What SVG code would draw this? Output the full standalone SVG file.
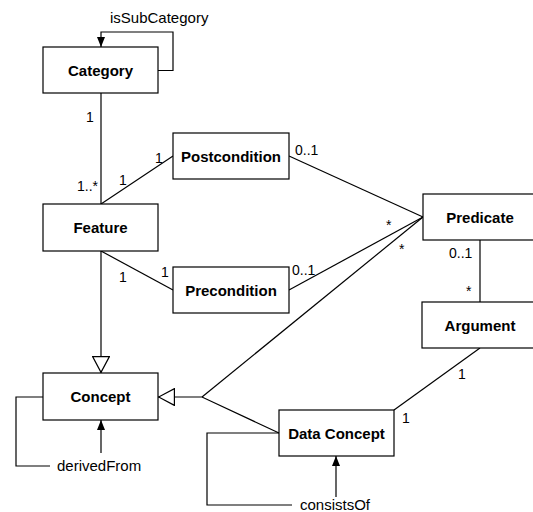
<svg xmlns="http://www.w3.org/2000/svg" width="533" height="512" viewBox="0 0 533 512">
<defs>
<style>
.box{fill:#fff;stroke:#000;stroke-width:1.2}
.nm{font-family:"Liberation Sans",Arial,sans-serif;font-weight:bold;font-size:15px;text-anchor:middle}
.lb{font-family:"Liberation Sans",Arial,sans-serif;font-size:14px}
.rl{font-family:"Liberation Sans",Arial,sans-serif;font-size:15px}
.ln{fill:none;stroke:#000;stroke-width:1.2}
</style>
<marker id="fill" viewBox="0 0 10 10" refX="10" refY="5" markerWidth="10" markerHeight="10" markerUnits="userSpaceOnUse" orient="auto"><path d="M0,1 L10,5 L0,9 Z" fill="#000"/></marker>
<marker id="hollow" viewBox="0 0 17 18" refX="17" refY="9" markerWidth="17" markerHeight="18" markerUnits="userSpaceOnUse" orient="auto"><path d="M0.6,0.6 L16.4,9 L0.6,17.4 Z" fill="#fff" stroke="#000" stroke-width="1.2"/></marker>
</defs>
<rect width="533" height="512" fill="#fff"/>
<g id="connectors">
<path class="ln" d="M158,70.5 H173 V32 H101 V47" marker-end="url(#fill)"/>
<text class="rl" x="110" y="23">isSubCategory</text>
<path class="ln" d="M101,93 V204"/>
<text class="lb" x="86" y="122">1</text>
<text class="lb" x="77" y="191">1..*</text>
<path class="ln" d="M101,204 L173,156"/>
<text class="lb" x="119" y="185">1</text>
<text class="lb" x="155" y="163">1</text>
<path class="ln" d="M101,251 L173,290"/>
<text class="lb" x="119" y="282">1</text>
<text class="lb" x="161" y="277">1</text>
<path class="ln" d="M289,156 L423,217"/>
<text class="lb" x="295" y="155">0..1</text>
<path class="ln" d="M289,290 L423,217"/>
<text class="lb" x="292" y="275">0..1</text>
<path class="ln" d="M423,217 L202,397"/>
<text class="lb" x="386" y="230">*</text>
<text class="lb" x="399" y="254">*</text>
<path class="ln" d="M480,240 V302"/>
<text class="lb" x="449" y="258">0..1</text>
<text class="lb" x="466" y="296">*</text>
<path class="ln" d="M279,433 L202,397 H158" marker-end="url(#hollow)"/>
<path class="ln" d="M101,251 V373" marker-end="url(#hollow)"/>
<path class="ln" d="M43,397 H16 V466 H50"/>
<text class="rl" x="57" y="471">derivedFrom</text>
<path class="ln" d="M101,453 V420" marker-end="url(#fill)"/>
<path class="ln" d="M480,348 L394,410"/>
<text class="lb" x="458" y="379">1</text>
<text class="lb" x="402" y="423">1</text>
<path class="ln" d="M279,433 H207 V505 H292"/>
<text class="rl" x="300" y="510">consistsOf</text>
<path class="ln" d="M336,497 V456" marker-end="url(#fill)"/>
</g>
<g id="category"><rect class="box" x="43" y="47" width="115" height="46"/><text class="nm" x="100.5" y="75.5">Category</text></g>
<g id="feature"><rect class="box" x="43" y="204" width="115" height="47"/><text class="nm" x="100.5" y="233">Feature</text></g>
<g id="postcondition"><rect class="box" x="173" y="133" width="116" height="46"/><text class="nm" x="231" y="161.5">Postcondition</text></g>
<g id="precondition"><rect class="box" x="173" y="267" width="116" height="46"/><text class="nm" x="231" y="295.5">Precondition</text></g>
<g id="predicate"><rect class="box" x="423" y="194" width="115" height="46"/><text class="nm" x="480" y="222.5">Predicate</text></g>
<g id="argument"><rect class="box" x="422" y="302" width="116" height="46"/><text class="nm" x="480" y="330.5">Argument</text></g>
<g id="concept"><rect class="box" x="43" y="373" width="115" height="47"/><text class="nm" x="100.5" y="402">Concept</text></g>
<g id="dataconcept"><rect class="box" x="279" y="410" width="115" height="46"/><text class="nm" x="336.5" y="438.5">Data Concept</text></g>
</svg>
